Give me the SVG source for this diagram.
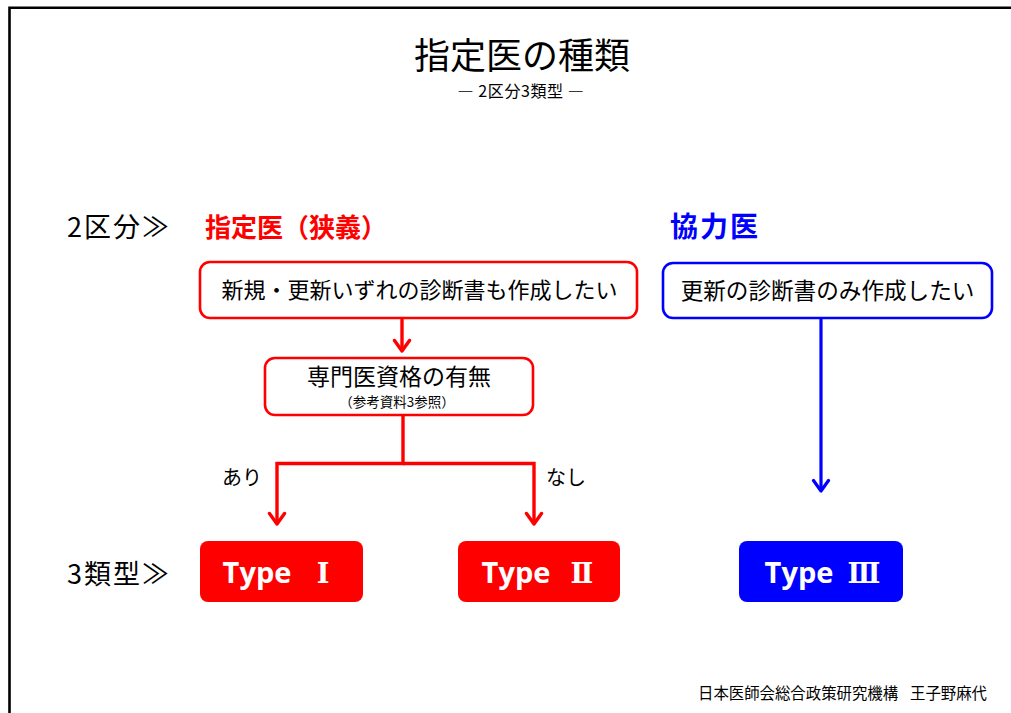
<svg xmlns="http://www.w3.org/2000/svg" width="1011" height="713" viewBox="0 0 1011 713">
<style>
text{font-family:"Noto Sans CJK JP","Noto Sans",sans-serif;fill:#000}
.title{font-size:36px}
.sub{font-size:16px;letter-spacing:0.6px}
.lab{font-size:27px;letter-spacing:2px}
.red{fill:#FF0000;font-weight:bold}
.blue{fill:#0000FF;font-weight:bold}
.box-r{fill:#fff;stroke:#FF0000;stroke-width:2.6}
.box-b{fill:#fff;stroke:#0000FF;stroke-width:2.6}
.t22{font-size:22px}
.type{font-family:"Open Sans","Noto Sans CJK JP",sans-serif;font-size:29px;font-weight:bold;fill:#fff;text-anchor:middle}
.num{font-family:"DejaVu Serif","Noto Sans CJK JP",serif;font-size:27px}
.cr{fill:none;stroke:#FF0000;stroke-width:3.4;stroke-linejoin:miter}
.cb{fill:none;stroke:#0000FF;stroke-width:3.2}
</style>
<defs>
<marker id="ar" viewBox="-14 -10 16 20" refX="0" refY="0" markerWidth="16" markerHeight="20" markerUnits="userSpaceOnUse" orient="auto">
<path d="M-10.5,-7.5 L0,0 L-10.5,7.5" fill="none" stroke="#FF0000" stroke-width="3.4" stroke-linecap="round" stroke-linejoin="round"/>
</marker>
<marker id="ab" viewBox="-14 -10 16 20" refX="0" refY="0" markerWidth="16" markerHeight="20" markerUnits="userSpaceOnUse" orient="auto">
<path d="M-10.5,-7.5 L0,0 L-10.5,7.5" fill="none" stroke="#0000FF" stroke-width="3.2" stroke-linecap="round" stroke-linejoin="round"/>
</marker>
</defs>
<path d="M9.5,713 V7.7 H1011" fill="none" stroke="#000" stroke-width="2.6"/>
<g id="title">
<text class="title" x="522" y="69" text-anchor="middle">指定医の種類</text>
<text class="sub" x="521" y="97" text-anchor="middle">― 2区分3類型 ―</text>
</g>
<g id="labels">
<text class="lab" x="67" y="237">2区分≫</text>
<text class="lab" x="67" y="584">3類型≫</text>
</g>
<g id="head-red"><text class="red" x="205" y="237" font-size="26">指定医（狭義）</text></g>
<g id="head-blue"><text class="blue" x="670" y="237" font-size="28" letter-spacing="2">協力医</text></g>
<g id="connectors">
<path class="cr" d="M402,318 V351" marker-end="url(#ar)"/>
<path class="cr" d="M403,415 V463.5 H277 V524" marker-end="url(#ar)"/>
<path class="cr" d="M403,463.5 H534 V524" marker-end="url(#ar)"/>
<path class="cb" d="M821,318 V491" marker-end="url(#ab)"/>
<text x="242" y="485" font-size="20" text-anchor="middle">あり</text>
<text x="566" y="485" font-size="20" text-anchor="middle">なし</text>
</g>
<g id="n-both">
<rect class="box-r" x="200" y="262" width="437" height="56" rx="10"/>
<text class="t22" x="419.5" y="298" text-anchor="middle">新規・更新いずれの診断書も作成したい</text>
</g>
<g id="n-renew">
<rect class="box-b" x="663" y="263" width="329" height="55" rx="10"/>
<text x="827.5" y="299" font-size="22.6" text-anchor="middle">更新の診断書のみ作成したい</text>
</g>
<g id="n-qual">
<rect class="box-r" x="265" y="358" width="268" height="57" rx="10"/>
<text x="399" y="385" font-size="23" text-anchor="middle">専門医資格の有無</text>
<text x="397" y="407" font-size="13.5" text-anchor="middle">（参考資料3参照）</text>
</g>
<g id="type1">
<rect x="200" y="541" width="163" height="61" rx="8" fill="#FF0000"/>
<text class="type" y="583"><tspan x="257">Type</tspan><tspan class="num" x="323">Ⅰ</tspan></text>
</g>
<g id="type2">
<rect x="458" y="541" width="162" height="61" rx="8" fill="#FF0000"/>
<text class="type" y="583"><tspan x="516">Type</tspan><tspan class="num" x="582">Ⅱ</tspan></text>
</g>
<g id="type3">
<rect x="739" y="541" width="164" height="61" rx="8" fill="#0000FF"/>
<text class="type" y="583"><tspan x="799">Type</tspan><tspan class="num" x="864">Ⅲ</tspan></text>
</g>
<g id="footer">
<text font-size="15.4" y="699"><tspan x="698">日本医師会総合政策研究機構</tspan><tspan x="910">王子野麻代</tspan></text>
</g>
</svg>
